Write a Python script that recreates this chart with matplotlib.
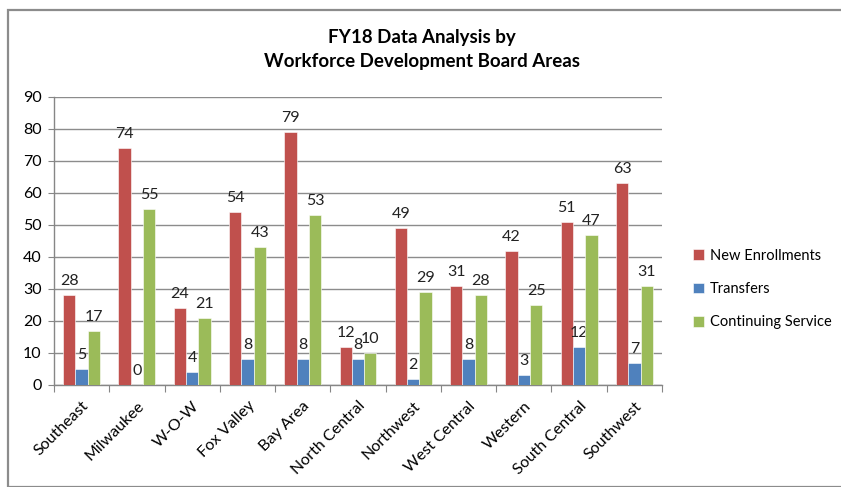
import matplotlib
matplotlib.use("Agg")
import matplotlib.pyplot as plt
import numpy as np
from matplotlib.patches import Rectangle

categories = ["Southeast", "Milwaukee", "W-O-W", "Fox Valley", "Bay Area",
              "North Central", "Northwest", "West Central", "Western",
              "South Central", "Southwest"]
new_enrollments = [28, 74, 24, 54, 79, 12, 49, 31, 42, 51, 63]
transfers = [5, 0, 4, 8, 8, 8, 2, 8, 3, 12, 7]
continuing = [17, 55, 21, 43, 53, 10, 29, 28, 25, 47, 31]
series_names = ["New Enrollments", "Transfers", "Continuing Service"]
colors = ["#C0504D", "#4F81BD", "#9BBB59"]
yticks = list(range(0, 91, 10))

plt.rcParams['font.family'] = ['Lato', 'DejaVu Sans']

fig = plt.figure(figsize=(8.41, 4.87), dpi=100)
W, H = 841, 487
fig.patches.append(Rectangle((8 / W, 0), 1.2, 1 - 9.5 / H, transform=fig.transFigure,
                             fill=False, edgecolor="#8C8C8C", linewidth=1.6, zorder=0))

ax = fig.add_axes([54 / W, (H - 385) / H, (662 - 54) / W, (385 - 97) / H])

n = len(categories)
x = np.arange(n)
bw = 1 / 4.5
data = [new_enrollments, transfers, continuing]
for i, (vals, c, name) in enumerate(zip(data, colors, series_names)):
    pos = x + (i - 1) * bw
    ax.bar(pos, vals, width=bw, color=c, edgecolor="white", linewidth=0.4,
           label=name, zorder=3)
    for p, v in zip(pos, vals):
        ax.annotate(str(v), (p, v), xytext=(0, 5), textcoords="offset points",
                    ha="center", va="bottom", fontsize=11.5, color="#222222")

ax.set_xlim(-0.5, n - 0.5)
ax.set_ylim(0, 90)
ax.set_yticks(yticks)
ax.tick_params(axis="y", labelsize=11.5, length=4, color="#868686", direction="out", pad=5)
ax.yaxis.grid(True, color="#8C8C8C", linewidth=1.0, zorder=0)
ax.set_axisbelow(True)

ax.set_xticks(np.arange(-0.5, n, 1))
ax.set_xticklabels([])
ax.tick_params(axis="x", length=5, color="#868686", direction="out")
ax.set_xticks(x, minor=True)
ax.set_xticklabels(categories, minor=True, rotation=45, ha="right",
                   rotation_mode="anchor", fontsize=11.5)
ax.tick_params(axis="x", which="minor", length=0, pad=10)

for s in ["top", "right"]:
    ax.spines[s].set_visible(False)
for s in ["left", "bottom"]:
    ax.spines[s].set_color("#868686")
    ax.spines[s].set_linewidth(1.0)

fig.text(422 / W, 1 - 38 / H, "FY18 Data Analysis by",
         ha="center", va="center", fontsize=13.5, fontweight="bold")
fig.text(422 / W, 1 - 62 / H, "Workforce Development Board Areas",
         ha="center", va="center", fontsize=13.5, fontweight="bold")

fig.legend(loc="upper left", bbox_to_anchor=(687 / W, 1 - 243 / H),
           frameon=False, fontsize=10.5, handlelength=0.75, handleheight=0.75,
           handletextpad=0.4, labelspacing=1.32, borderaxespad=0)

fig.savefig("out.png", dpi=100)
